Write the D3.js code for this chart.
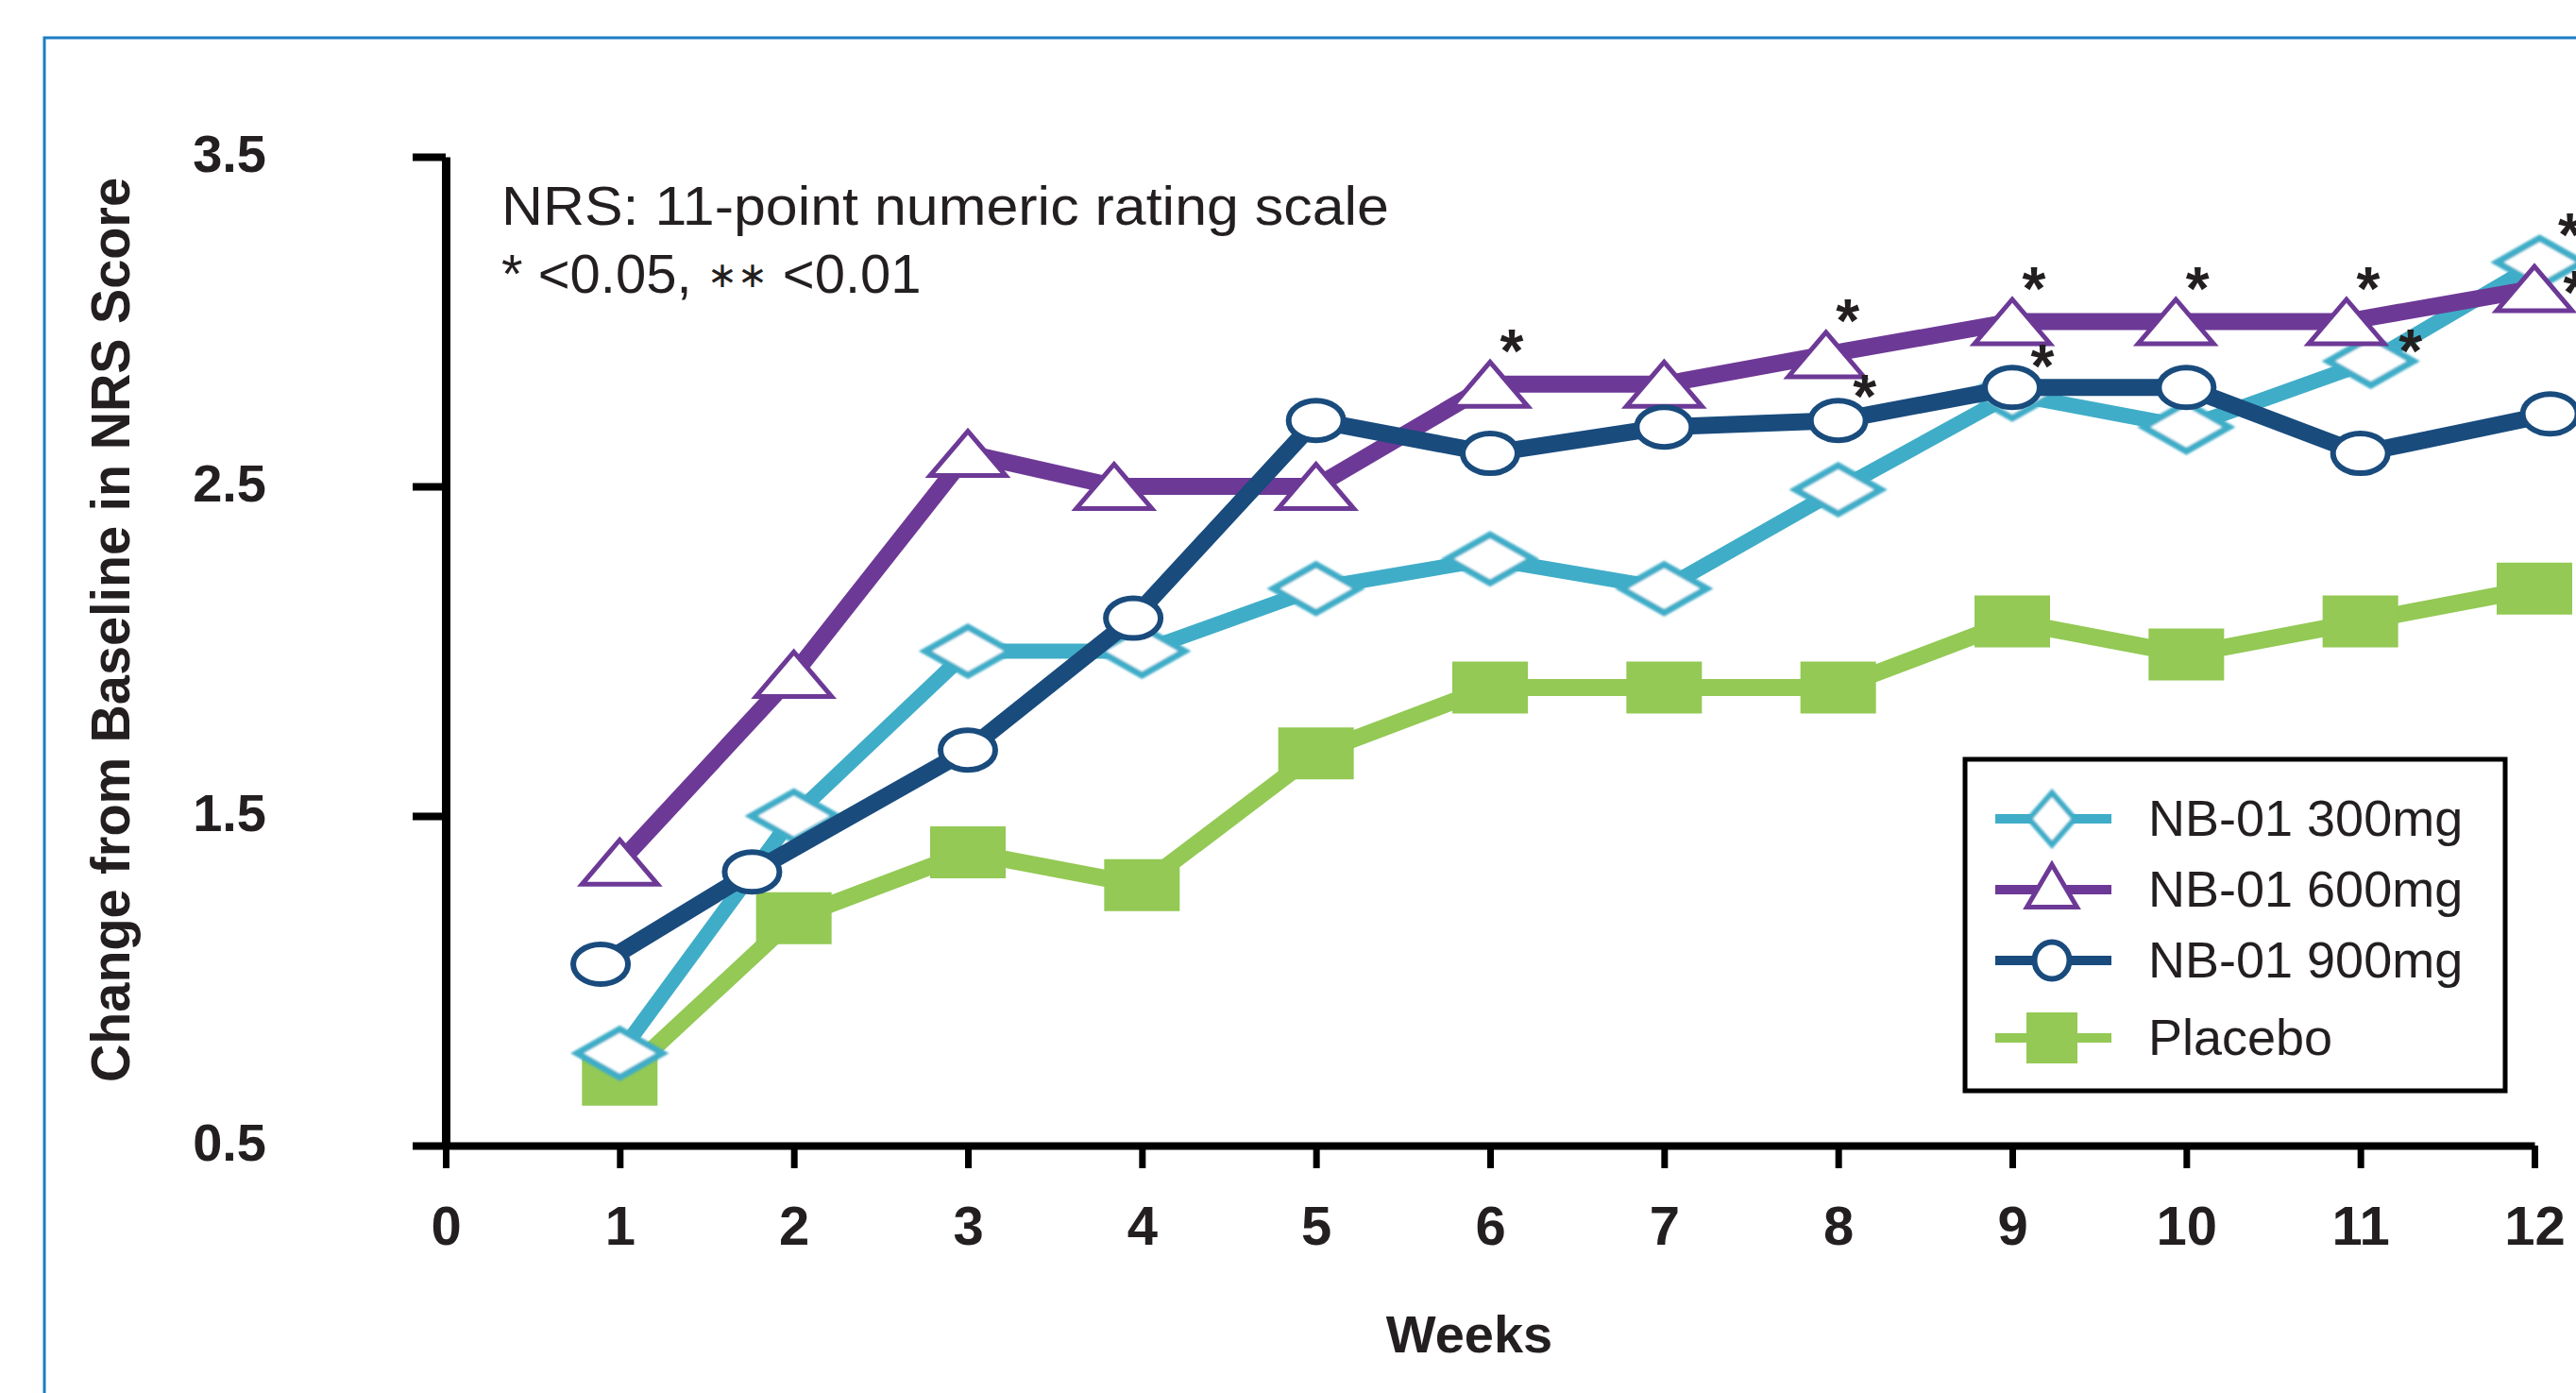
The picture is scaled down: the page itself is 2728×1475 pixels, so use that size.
<!DOCTYPE html>
<html>
<head>
<meta charset="utf-8">
<script src="https://cdn.jsdelivr.net/npm/d3@7"></script>
<style>
  html, body { margin: 0; padding: 0; background: #fff; }
  svg { display: block; }
  text { font-family: "Liberation Sans", Arial, Helvetica, sans-serif; fill: #231f20; }
</style>
</head>
<body>
<script>
// ---- Data: mean change from baseline in NRS score by week ----
const seriesNames = ["NB-01 300mg", "NB-01 600mg", "NB-01 900mg", "Placebo"];

const weeks300 = [1, 2, 3, 4, 5, 6, 7, 8, 9, 10, 11.06, 12.03];
const nrs300   = [0.78, 1.5, 2.0, 2.0, 2.19, 2.28, 2.19, 2.49, 2.78, 2.68, 2.88, 3.18];

const weeks600 = [1, 2, 3, 3.84, 5, 6, 7, 7.93, 9, 9.94, 10.92, 12];
const nrs600   = [1.36, 1.93, 2.6, 2.5, 2.5, 2.81, 2.81, 2.9, 3.0, 3.0, 3.0, 3.1];

const weeks900 = [0.89, 1.76, 3, 3.95, 5, 6, 7, 8, 9, 10, 11, 12.09];
const nrs900   = [1.05, 1.33, 1.7, 2.1, 2.7, 2.6, 2.68, 2.7, 2.8, 2.8, 2.6, 2.72];

const weeksPlacebo = [1, 2, 3, 4, 5, 6, 7, 8, 9, 10, 11, 12];
const nrsPlacebo   = [0.7, 1.19, 1.39, 1.29, 1.69, 1.89, 1.89, 1.89, 2.09, 1.99, 2.09, 2.19];

// significance vs placebo: week index per arm, and where the star sits
const sig300 = [[9, "ne"], [11, "e"], [12, "ne"]];
const sig600 = [[6, "ne"], [8, "ne"], [9, "ne"], [10, "ne"], [11, "ne"], [12, "e"]];
const sig900 = [[8, "ne"]];

const xTickValues = [0, 1, 2, 3, 4, 5, 6, 7, 8, 9, 10, 11, 12];
const yTickValues = [0.5, 1.5, 2.5, 3.5];
const yTickLabels = ["0.5", "1.5", "2.5", "3.5"];

const noteLine1 = "NRS: 11-point numeric rating scale";
const noteLine2 = ["* <0.05, ", "\u2217\u2217", " <0.01"];
const xTitle = "Weeks";
const yTitle = "Change from Baseline in NRS Score";

// ---- Styling ----
const W = 2728, H = 1475;
const colors = { "NB-01 300mg": "#40adc8", "NB-01 600mg": "#6d3996", "NB-01 900mg": "#194b7d", "Placebo": "#93c954" };
const shapes = { "NB-01 300mg": "diamond", "NB-01 600mg": "triangle", "NB-01 900mg": "circle", "Placebo": "square" };
const lineWidths = { "NB-01 300mg": 16, "NB-01 600mg": 18, "NB-01 900mg": 18, "Placebo": 18 };
// [width, height, stroke] of markers in the plot and in the key
const plotMarker = { diamond: [90, 51, 7], triangle: [80, 47, 5], circle: [58, 42, 6], square: [80, 55, 0] };
const keyMarker  = { diamond: [48, 55, 6], triangle: [53, 45, 5], circle: [37, 39, 6], square: [54, 54, 0] };
const starOffset = {
  ne: { diamond: [32, -41], triangle: [23, -47], circle: [28, -37] },
  e:  { diamond: [42, -22], triangle: [43, -8],  circle: [40, -10] }
};

const svg = d3.select("body").append("svg").attr("width", W).attr("height", H);
svg.append("rect").attr("width", W).attr("height", H).attr("fill", "#fff");

const defs = svg.append("defs");
defs.append("filter").attr("id", "soft").attr("x", "-20%").attr("y", "-20%").attr("width", "140%").attr("height", "140%")
  .append("feGaussianBlur").attr("stdDeviation", 1.3);

// outer frame
svg.append("rect").attr("x", 47).attr("y", 40).attr("width", W).attr("height", H)
  .attr("fill", "none").attr("stroke", "#1b7dc4").attr("stroke-width", 3);

const x = d3.scaleLinear().domain([0, 12]).range([472, 2684]);
const y = d3.scaleLinear().domain([0.5, 3.5]).range([1213, 166]);

// ---- Axes ----
const yAxis = svg.append("g").attr("transform", `translate(${x(0)},0)`)
  .call(d3.axisLeft(y).tickValues(yTickValues).tickFormat((d, i) => yTickLabels[i])
    .tickSizeInner(35).tickSizeOuter(0).tickPadding(155));
yAxis.select(".domain").attr("stroke", "#000").attr("stroke-width", 9);
yAxis.selectAll(".tick line").attr("stroke", "#000").attr("stroke-width", 8);
yAxis.selectAll(".tick text").attr("font-size", 56).attr("font-weight", "bold")
  .attr("fill", "#231f20").attr("dy", "0.27em");

const xAxis = svg.append("g").attr("transform", `translate(0,${y(0.5)})`)
  .call(d3.axisBottom(x).tickValues(xTickValues).tickFormat(d3.format("d"))
    .tickSizeInner(24).tickSizeOuter(0));
xAxis.select(".domain").attr("stroke", "#000").attr("stroke-width", 8);
xAxis.selectAll(".tick line").attr("stroke", "#000").attr("stroke-width", 7);
xAxis.selectAll(".tick text").attr("font-size", 58).attr("font-weight", "bold")
  .attr("fill", "#231f20").attr("y", 105).attr("dy", 0);

// axis titles
svg.append("text").attr("x", 1556).attr("y", 1432).attr("text-anchor", "middle")
  .attr("font-size", 56).attr("font-weight", "bold").text(xTitle);
svg.append("text").attr("transform", "translate(137,667) rotate(-90)").attr("text-anchor", "middle")
  .attr("font-size", 58).attr("font-weight", "bold")
  .attr("textLength", 958).attr("lengthAdjust", "spacingAndGlyphs").text(yTitle);

// note text
svg.append("text").attr("x", 531).attr("y", 238).attr("font-size", 58)
  .attr("textLength", 940).attr("lengthAdjust", "spacingAndGlyphs").text(noteLine1);
const note2 = svg.append("text").attr("x", 531).attr("y", 310).attr("font-size", 58);
note2.append("tspan").text(noteLine2[0]);
note2.append("tspan").attr("font-size", 38).attr("dy", -6).text(noteLine2[1]);
note2.append("tspan").attr("dy", 6).text(noteLine2[2]);

// ---- Marker helpers ----
function shapePath(type, w, h) {
  if (type === "diamond") return `M0,${-h / 2}L${w / 2},0L0,${h / 2}L${-w / 2},0Z`;
  if (type === "triangle") return `M0,${-h / 2}L${w / 2},${h / 2}L${-w / 2},${h / 2}Z`;
  return `M${-w / 2},${-h / 2}h${w}v${h}h${-w}Z`;
}
function drawMarker(g, type, spec, color, cx, cy) {
  const [w, h, sw] = spec[type];
  let m;
  if (type === "circle") {
    m = g.append("ellipse").attr("cx", cx).attr("cy", cy).attr("rx", w / 2).attr("ry", h / 2)
      .attr("fill", "#fff").attr("stroke", color).attr("stroke-width", sw);
  } else if (type === "square") {
    m = g.append("path").attr("transform", `translate(${cx},${cy})`).attr("d", shapePath(type, w, h))
      .attr("fill", color);
  } else {
    m = g.append("path").attr("transform", `translate(${cx},${cy})`).attr("d", shapePath(type, w, h))
      .attr("fill", "#fff").attr("stroke", color).attr("stroke-width", sw).attr("stroke-linejoin", "miter");
  }
  if (type === "diamond") m.attr("filter", "url(#soft)");
  return m;
}

// ---- Series (placebo first, higher doses on top) ----
const table = {
  "NB-01 300mg": d3.zip(weeks300, nrs300),
  "NB-01 600mg": d3.zip(weeks600, nrs600),
  "NB-01 900mg": d3.zip(weeks900, nrs900),
  "Placebo": d3.zip(weeksPlacebo, nrsPlacebo)
};
const drawOrder = ["Placebo", "NB-01 300mg", "NB-01 600mg", "NB-01 900mg"];
const line = d3.line().x(d => x(d[0])).y(d => y(d[1]));

const plot = svg.append("g");
drawOrder.forEach(name => {
  const g = plot.append("g");
  const pts = table[name];
  g.append("path").attr("d", line(pts)).attr("fill", "none")
    .attr("stroke", colors[name]).attr("stroke-width", lineWidths[name])
    .attr("stroke-linejoin", "round");
  pts.forEach(p => drawMarker(g, shapes[name], plotMarker, colors[name], x(p[0]), y(p[1])));
});

// significance stars
const stars = svg.append("g");
[["NB-01 300mg", sig300], ["NB-01 600mg", sig600], ["NB-01 900mg", sig900]].forEach(([name, list]) => {
  const pts = table[name];
  list.forEach(([wk, side]) => {
    const p = pts[wk - 1];
    const [dx, dy] = starOffset[side][shapes[name]];
    stars.append("text").attr("x", x(p[0]) + dx).attr("y", y(p[1]) + dy + 34)
      .attr("text-anchor", "middle").attr("font-size", 64).attr("font-weight", "bold").text("*");
  });
});

// ---- Key ----
const key = svg.append("g");
key.append("rect").attr("x", 2081).attr("y", 804).attr("width", 572).attr("height", 351)
  .attr("fill", "#fff").attr("stroke", "#000").attr("stroke-width", 5);
const keyRowY = [867, 942, 1017, 1099];
seriesNames.forEach((name, i) => {
  const cy = keyRowY[i];
  key.append("line").attr("x1", 2113).attr("x2", 2236).attr("y1", cy).attr("y2", cy)
    .attr("stroke", colors[name]).attr("stroke-width", 10);
  drawMarker(key, shapes[name], keyMarker, colors[name], 2173, shapes[name] === "triangle" ? cy - 4 : cy);
  key.append("text").attr("x", 2275).attr("y", cy + 18).attr("font-size", 54).text(name);
});
</script>
</body>
</html>
